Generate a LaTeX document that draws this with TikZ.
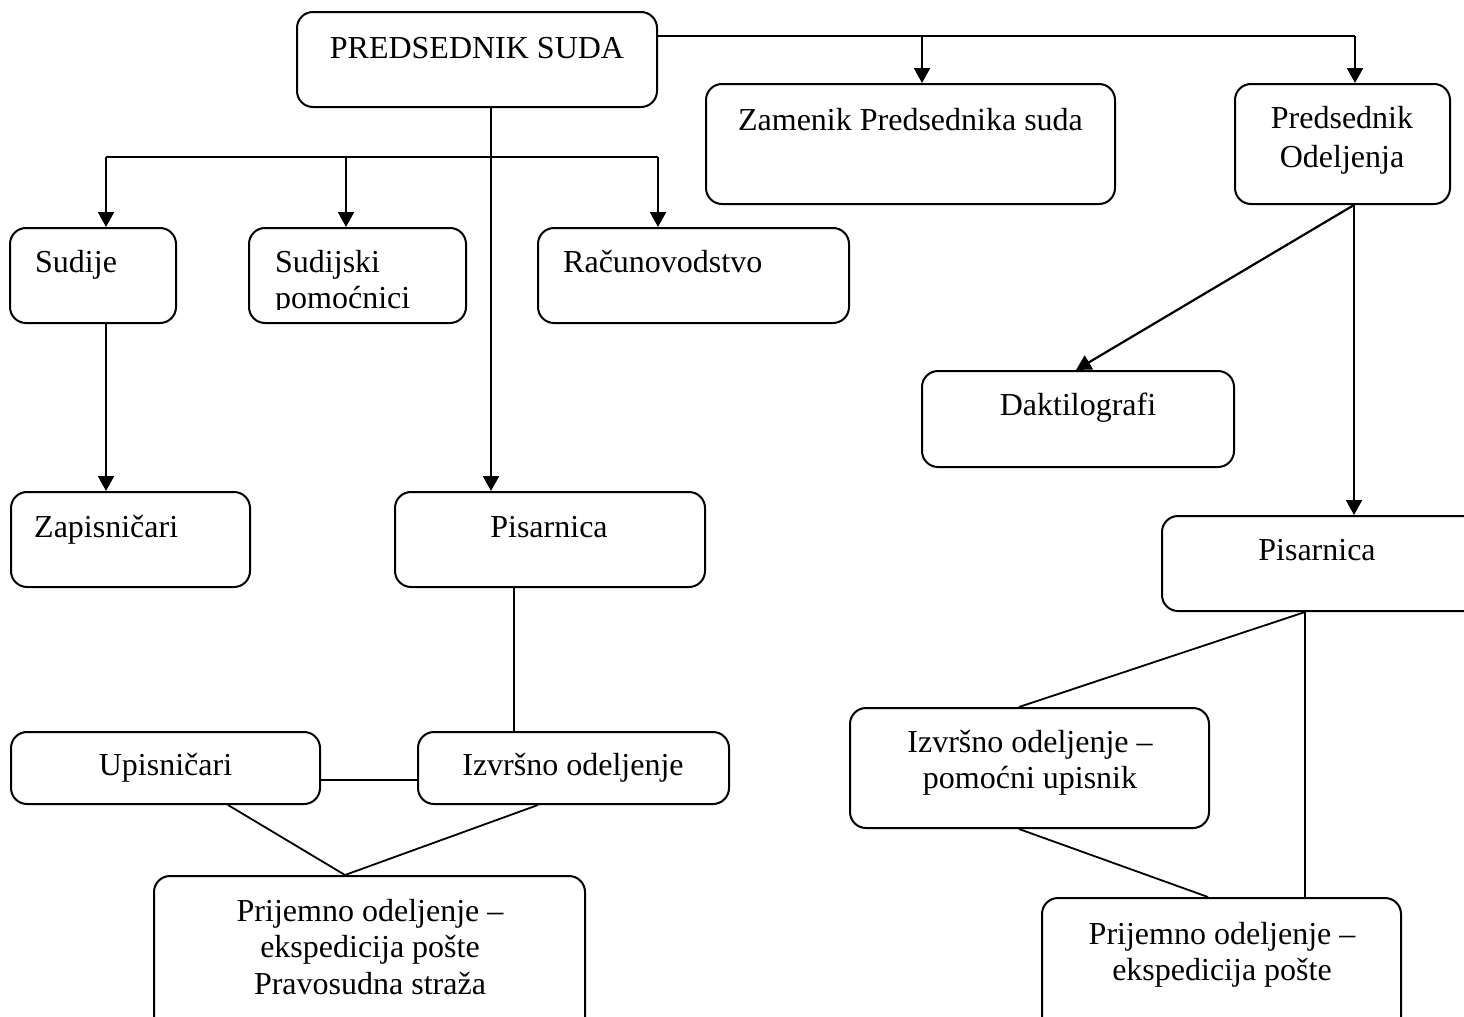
\documentclass[tikz,border=0pt]{standalone}
\usepackage{fontspec}
\setmainfont{Liberation Serif}
\usetikzlibrary{arrows.meta}
\begin{document}
\begin{tikzpicture}[x=1pt,y=-1pt,
  box/.style={draw, line width=2pt, rounded corners=16pt, inner sep=0pt, rectangle},
  txt/.style={font=\fontsize{32}{37}\selectfont, inner sep=0pt, align=center},
  arr/.style={line width=2.2pt, -{Triangle[length=15pt,width=16pt]}},
  ln/.style={line width=1.8pt},
  bar/.style={line width=2.2pt}]
\useasboundingbox (0,0) rectangle (1464,1017);

% boxes
\node[box, minimum width=360pt, minimum height=95pt]  (ps)   at (477,59.5) {};
\node[box, minimum width=409pt, minimum height=120pt] (zam)  at (910.5,144) {};
\node[box, minimum width=215pt, minimum height=120pt] (po)   at (1342.5,144) {};
\node[box, minimum width=166pt, minimum height=95pt]  (sud)  at (93,275.5) {};
\node[box, minimum width=217pt, minimum height=95pt]  (sp)   at (357.5,275.5) {};
\node[box, minimum width=311pt, minimum height=95pt]  (rac)  at (693.5,275.5) {};
\node[box, minimum width=312pt, minimum height=96pt]  (dak)  at (1078,419) {};
\node[box, minimum width=239pt, minimum height=95pt]  (zap)  at (130.5,539.5) {};
\node[box, minimum width=310pt, minimum height=95pt]  (pisL) at (550,539.5) {};
\node[box, minimum width=318pt, minimum height=95pt]  (pisR) at (1321,563.5) {};
\node[box, minimum width=309pt, minimum height=72pt]  (upi)  at (165.5,768) {};
\node[box, minimum width=311pt, minimum height=72pt]  (izL)  at (573.5,768) {};
\node[box, minimum width=431pt, minimum height=174pt] (priL) at (369.5,963) {};
\node[box, minimum width=359pt, minimum height=120pt] (izR)  at (1029.5,768) {};
\node[box, minimum width=359pt, minimum height=152pt] (priR) at (1221.5,974) {};

% texts
\node[txt, anchor=base] (t-ps) at (477,58) {PREDSEDNIK SUDA};
\node[txt, anchor=base] (t-zam) at (910.5,130) {Zamenik Predsednika suda};
\node[txt, anchor=base] (t-po1) at (1342,128) {Predsednik};
\node[txt, anchor=base] (t-po2) at (1342,167) {Odeljenja};
\node[txt, anchor=base west] (t-sud) at (35,272) {Sudije};
\node[txt, anchor=base west] (t-sp1) at (275,272) {Sudijski};
\begin{scope}
  \clip (240,220) rectangle (480,309);
  \node[txt, anchor=base west] (t-sp2) at (275,308) {pomoćnici};
\end{scope}
\node[txt, anchor=base west] (t-rac) at (563,272) {Računovodstvo};
\node[txt, anchor=base] (t-dak) at (1078,415) {Daktilografi};
\node[txt, anchor=base west] (t-zap) at (34,537) {Zapisničari};
\node[txt, anchor=base] (t-pisL) at (549,537) {Pisarnica};
\node[txt, anchor=base] (t-pisR) at (1317,560) {Pisarnica};
\node[txt, anchor=base] (t-upi) at (165.5,775) {Upisničari};
\node[txt, anchor=base] (t-izL) at (573,775) {Izvršno odeljenje};
\node[txt, anchor=base] (t-priL1) at (370,921) {Prijemno odeljenje –};
\node[txt, anchor=base] (t-priL2) at (370,957) {ekspedicija pošte};
\node[txt, anchor=base] (t-priL3) at (370,994) {Pravosudna straža};
\node[txt, anchor=base] (t-izR1) at (1030,752) {Izvršno odeljenje –};
\node[txt, anchor=base] (t-izR2) at (1030,788) {pomoćni upisnik};
\node[txt, anchor=base] (t-priR1) at (1222,944) {Prijemno odeljenje –};
\node[txt, anchor=base] (t-priR2) at (1222,980) {ekspedicija pošte};

% junction coordinates
\coordinate (jA) at (922,36);
\coordinate (jB) at (1355,36);
\coordinate (h1) at (106,157);
\coordinate (h2) at (346,157);
\coordinate (h3) at (658,157);

% top connectors
\draw[bar] (ps.east |- jA) -- (jB);
\draw[arr] (jA) -- (jA |- zam.north);
\draw[arr] (jB) -- (jB |- po.north);
\draw[arr] (491,0 |- ps.south) -- (491,0 |- pisL.north);
\draw[bar] (h1) -- (h3);
\draw[arr] (h1) -- (h1 |- sud.north);
\draw[arr] (h2) -- (h2 |- sp.north);
\draw[arr] (h3) -- (h3 |- rac.north);
\draw[arr] (106,0 |- sud.south) -- (106,0 |- zap.north);

% right side
\draw[arr] (1354,0 |- po.south) -- (1076,0 |- dak.north);
\draw[arr] (1354,0 |- po.south) -- (1354,0 |- pisR.north);
\draw[ln] (1305,0 |- pisR.south) -- (1019,0 |- izR.north);
\draw[ln] (1305,0 |- pisR.south) -- (1305,0 |- priR.north);
\draw[ln] (1019,0 |- izR.south) -- (1208,0 |- priR.north);

% left bottom
\draw[ln] (514,0 |- pisL.south) -- (514,0 |- izL.north);
\draw[ln] (upi.east |- 0,780) -- (izL.west |- 0,780);
\draw[ln] (228,0 |- upi.south) -- (345,0 |- priL.north);
\draw[ln] (538,0 |- izL.south) -- (345,0 |- priL.north);
\end{tikzpicture}
\end{document}
